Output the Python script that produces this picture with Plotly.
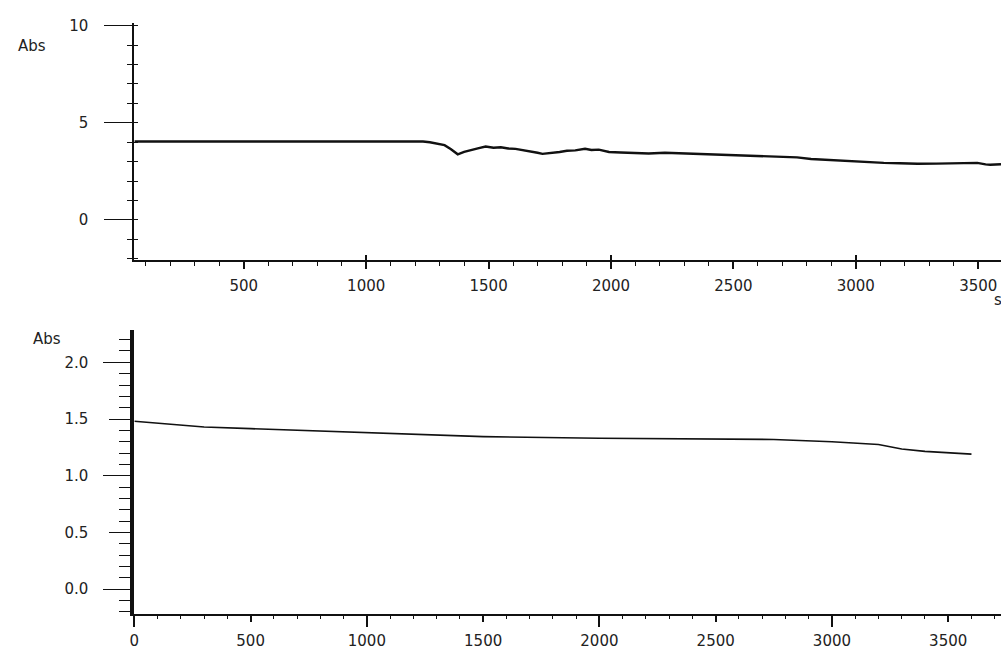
import plotly.graph_objects as go

# ---- data ----
top_time = [53, 1232, 1260, 1290, 1320, 1345, 1374, 1400, 1430, 1460, 1488, 1520,
            1550, 1580, 1610, 1640, 1670, 1700, 1720, 1750, 1790, 1820, 1854,
            1894, 1920, 1950, 1992, 2040, 2080, 2154, 2220, 2289, 2350, 2423,
            2490, 2561, 2630, 2695, 2760, 2817, 2900, 2980, 3050, 3114, 3180,
            3252, 3330, 3400, 3460, 3496, 3530, 3549, 3593]
top_abs = [4.04, 4.04, 4.00, 3.93, 3.85, 3.65, 3.38, 3.50, 3.62, 3.70, 3.78, 3.72,
           3.74, 3.68, 3.66, 3.60, 3.55, 3.46, 3.40, 3.43, 3.50, 3.56, 3.58,
           3.66, 3.60, 3.62, 3.50, 3.47, 3.45, 3.42, 3.46, 3.43, 3.41, 3.40,
           3.36, 3.33, 3.30, 3.28, 3.22, 3.14, 3.08, 3.02, 2.98, 2.94, 2.92,
           2.89, 2.90, 2.91, 2.93, 2.94, 2.86, 2.84, 2.87]

bot_time = [0, 300, 500, 1000, 1500, 2000, 2500, 2750, 3000, 3200, 3300, 3400, 3600]
bot_abs = [1.48, 1.43, 1.415, 1.38, 1.345, 1.33, 1.325, 1.32, 1.30, 1.275, 1.235, 1.215, 1.19]

top_xticks = [500, 1000, 1500, 2000, 2500, 3000, 3500]
top_xticks_long = [1000, 2000, 3000]
top_yticks = [0, 5, 10]
bot_xticks = [0, 500, 1000, 1500, 2000, 2500, 3000, 3500]
bot_xticks_long = [0, 1000, 2000, 3000]
bot_yticks = [0.0, 0.5, 1.0, 1.5, 2.0]
bot_yticks_long = [0.0, 1.0, 2.0]

W, H = 1001, 650
FONT = dict(family="DejaVu Sans, Arial, sans-serif", size=15, color="#222")

def px_x(p):
    return p / W

def px_y(p):
    return 1 - p / H

TOP_X_RANGE = [53, 3593]
TOP_Y_RANGE = [-2.07, 10.15]
BOT_X_RANGE = [0, 3727]
BOT_Y_RANGE = [-0.216, 2.286]
TOP_XDOM = [px_x(130), 1.0]
TOP_YDOM = [px_y(259), px_y(17)]
BOT_XDOM = [px_x(130), 1.0]
BOT_YDOM = [px_y(619), px_y(330)]

fig = go.Figure()
fig.add_trace(go.Scatter(x=top_time, y=top_abs, mode="lines",
                         line=dict(color="#111", width=2.4), xaxis="x", yaxis="y",
                         showlegend=False, hoverinfo="skip"))
fig.add_trace(go.Scatter(x=bot_time, y=bot_abs, mode="lines",
                         line=dict(color="#111", width=1.6), xaxis="x2", yaxis="y2",
                         showlegend=False, hoverinfo="skip"))

common = dict(showgrid=False, zeroline=False, linecolor="#111",
              tickcolor="#111", tickfont=FONT, fixedrange=True)
overlay = dict(showgrid=False, zeroline=False, showline=False, showticklabels=False,
               tickcolor="#111", fixedrange=True)

fig.update_layout(
    width=W, height=H,
    margin=dict(l=0, r=0, t=0, b=0),
    paper_bgcolor="white", plot_bgcolor="white",
    font=FONT,
    # top panel
    xaxis=dict(domain=TOP_XDOM, range=TOP_X_RANGE, anchor="y", showline=True,
               tickvals=top_xticks, ticks="outside", ticklen=7, tickwidth=1.5,
               linewidth=1.5, ticklabelstandoff=4,
               minor=dict(dtick=100, tick0=0, ticklen=4, ticks="outside",
                          tickcolor="#111", tickwidth=1.2), **common),
    yaxis=dict(domain=TOP_YDOM, range=TOP_Y_RANGE, anchor="x", showline=True,
               tickvals=top_yticks, ticks="outside", ticklen=28, tickwidth=1.2,
               linewidth=2.2, ticklabelstandoff=13,
               minor=dict(dtick=1, tick0=0, ticklen=5, ticks="outside",
                          tickcolor="#111", tickwidth=1.2), **common),
    xaxis3=dict(overlaying="x", domain=TOP_XDOM, range=TOP_X_RANGE, anchor="y",
                tickvals=top_xticks_long, ticks="inside", ticklen=5, tickwidth=1.5,
                **overlay),
    yaxis3=dict(overlaying="y", domain=TOP_YDOM, range=TOP_Y_RANGE, anchor="x",
                dtick=1, tick0=0, ticks="inside", ticklen=4, tickwidth=1.2,
                **overlay),
    # bottom panel
    xaxis2=dict(domain=BOT_XDOM, range=BOT_X_RANGE, anchor="y2", showline=True,
                tickvals=bot_xticks, ticks="outside", ticklen=7, tickwidth=1.5,
                linewidth=1.5, ticklabelstandoff=6,
                minor=dict(dtick=100, tick0=0, ticklen=4, ticks="outside",
                           tickcolor="#111", tickwidth=1.2), **common),
    yaxis2=dict(domain=BOT_YDOM, range=BOT_Y_RANGE, anchor="x2", showline=True,
                tickvals=bot_yticks, tickformat=".1f", ticks="outside", ticklen=21,
                tickwidth=1.2, linewidth=4, ticklabelstandoff=18,
                minor=dict(dtick=0.1, tick0=0, ticklen=11, ticks="outside",
                           tickcolor="#111", tickwidth=1.2), **common),
    xaxis4=dict(overlaying="x2", domain=BOT_XDOM, range=BOT_X_RANGE, anchor="y2",
                tickvals=bot_xticks_long, ticks="outside", ticklen=12, tickwidth=1.5,
                **overlay),
    yaxis4=dict(overlaying="y2", domain=BOT_YDOM, range=BOT_Y_RANGE, anchor="x2",
                tickvals=bot_yticks_long, ticks="outside", ticklen=30, tickwidth=1.2,
                **overlay),
    annotations=[
        dict(text="Abs", xref="paper", yref="paper", x=px_x(11), y=px_y(41),
             xanchor="left", yanchor="middle", showarrow=False, font=FONT),
        dict(text="Abs", xref="paper", yref="paper", x=px_x(26), y=px_y(339),
             xanchor="left", yanchor="middle", showarrow=False, font=FONT),
        dict(text="s", xref="paper", yref="paper", x=px_x(992), y=px_y(300),
             xanchor="left", yanchor="middle", showarrow=False, font=FONT),
    ],
)

# invisible traces so the overlay axes are drawn
fig.add_trace(go.Scatter(x=[None], y=[None], xaxis="x3", yaxis="y3",
                         showlegend=False, hoverinfo="skip"))
fig.add_trace(go.Scatter(x=[None], y=[None], xaxis="x4", yaxis="y4",
                         showlegend=False, hoverinfo="skip"))

fig.write_html("out.html")
